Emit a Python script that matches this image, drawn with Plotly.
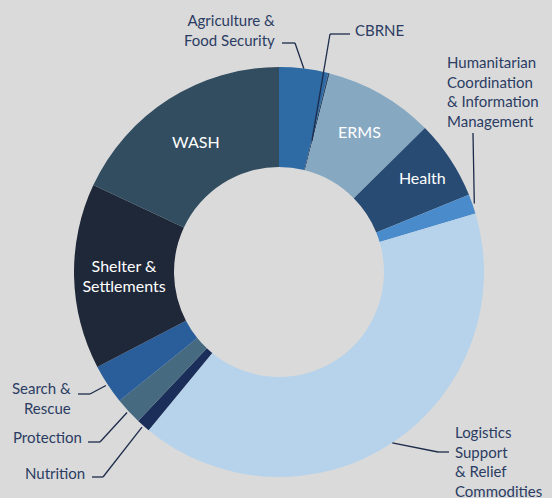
import math
import plotly.graph_objects as go

# ---- data ----
sectors = ["Agriculture & Food Security", "CBRNE", "ERMS", "Health",
           "Humanitarian Coordination & Information Management",
           "Logistics Support & Relief Commodities", "Nutrition", "Protection",
           "Search & Rescue", "Shelter & Settlements", "WASH"]
shares = [3.86, 0.12, 8.63, 6.25, 1.53, 40.58, 1.08, 2.14, 3.14, 14.64, 18.03]
inside_text = ["", "", "ERMS", "Health", "", "", "", "", "", "Shelter &<br>Settlements", "WASH"]
colors = ["#2e6aa4", "#2a4a6e", "#86a8c1", "#284b73", "#4a8bcb", "#b6d3eb",
          "#1a2e59", "#466a80", "#2a5e9b", "#1f2839", "#324d60"]

W, H = 552, 498
CX, CY, R_OUT, R_IN = 279, 272, 205, 105

def paper(x, y):
    return x / W, 1 - y / H

fig = go.Figure(go.Pie(
    labels=sectors, values=shares, sort=False, direction="clockwise", rotation=0,
    hole=R_IN / R_OUT, marker=dict(colors=colors, line=dict(width=0)),
    text=inside_text, textinfo="text",
    textposition=["inside" if t else "none" for t in inside_text],
    insidetextorientation="horizontal",
    textfont=dict(color="white", size=16, family="Lato"),
    hoverinfo="label+percent", showlegend=False,
    domain=dict(x=[(CX - R_OUT) / W, (CX + R_OUT) / W],
                y=[(H - CY - R_OUT) / H, (H - CY + R_OUT) / H]),
))

# mid angles of each slice (degrees clockwise from 12 o'clock), derived from data
total = sum(shares)
cum = 0
mid = {}
for s, v in zip(sectors, shares):
    mid[s] = (cum + v / 2) / total * 360
    cum += v

def ring_point(sector, r):
    a = math.radians(mid[sector])
    return CX + r * math.sin(a), CY - r * math.cos(a)

LINE = "#1c2b4a"
TXT = "#2b3c63"
# label: (sector, radius of leader start, elbow pts, text, text x, text y, anchor)
callouts = [
    ("Agriculture & Food Security", R_OUT, [(295, 43), (282, 43)],
     "Agriculture &<br>Food Security", 277, 30, "right"),
    ("CBRNE", 135, [(330, 34), (350, 34)], "CBRNE", 353, 30, "left"),
    ("Humanitarian Coordination & Information Management", R_OUT + 2, [(473, 133)],
     "Humanitarian<br>Coordination<br>& Information<br>Management", 445, 92, "left"),
    ("Logistics Support & Relief Commodities", R_OUT, [(438, 452), (449, 452)],
     "Logistics<br>Support<br>& Relief<br>Commodities", 453, 461, "left"),
    ("Search & Rescue", R_OUT + 2, [(90, 394), (78, 394)],
     "Search &<br>Rescue", 73, 398, "right"),
    ("Protection", R_OUT + 2, [(100, 442), (88, 442)], "Protection", 84, 437, "right"),
    ("Nutrition", R_OUT + 2, [(103, 477), (92, 477)], "Nutrition", 87, 473, "right"),
]

shapes = []
annotations = []
for sec, r0, pts, txt, tx, ty, anchor in callouts:
    p = [ring_point(sec, r0)] + pts
    for (x0, y0), (x1, y1) in zip(p[:-1], p[1:]):
        a0, b0 = paper(x0, y0)
        a1, b1 = paper(x1, y1)
        shapes.append(dict(type="line", xref="paper", yref="paper",
                           x0=a0, y0=b0, x1=a1, y1=b1,
                           line=dict(color=LINE, width=1.3)))
    ax, ay = paper(tx, ty)
    annotations.append(dict(text=txt, x=ax, y=ay, xref="paper", yref="paper",
                            xanchor=anchor, yanchor="middle", align=anchor,
                            showarrow=False,
                            font=dict(family="Lato", size=15, color=TXT)))

fig.update_layout(
    width=W, height=H, margin=dict(l=0, r=0, t=0, b=0),
    paper_bgcolor="#dadada", plot_bgcolor="#dadada",
    shapes=shapes, annotations=annotations,
)
fig.write_html("out.html", config={"displayModeBar": False},
               post_script="document.body.style.margin='0';"
                           "document.body.style.background='#dadada';")
